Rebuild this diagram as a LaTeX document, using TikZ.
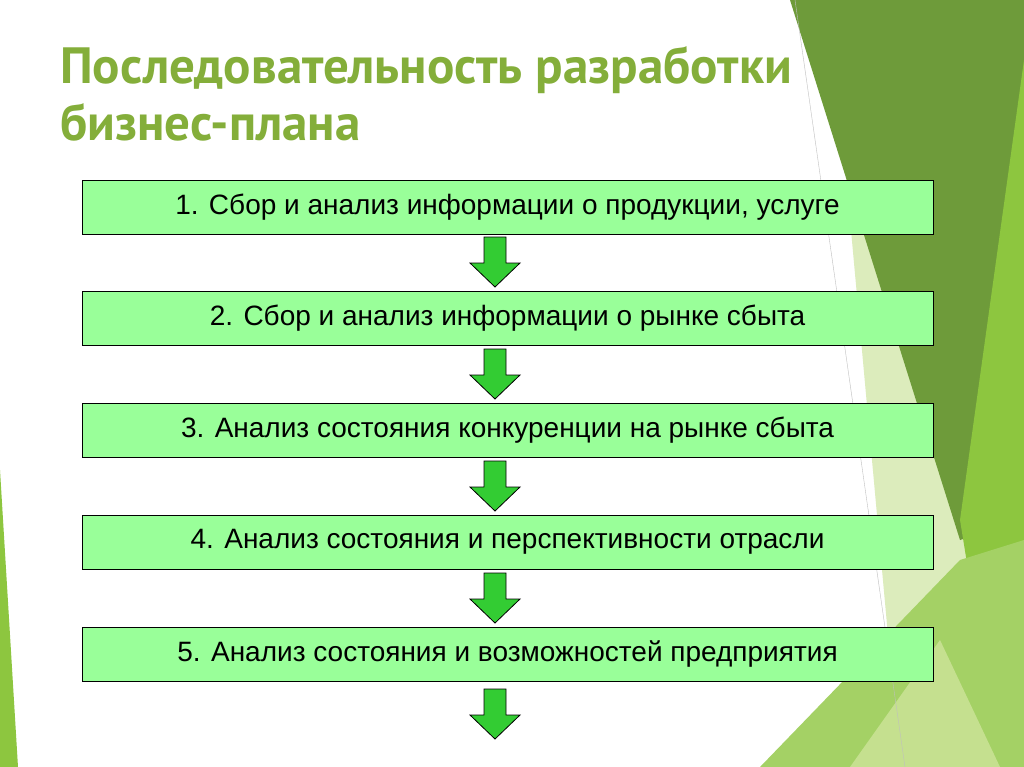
\documentclass[tikz,border=0pt]{standalone}
\usepackage{fontspec}
\setmainfont{Liberation Sans}
\newfontfamily\titlefont{PT Sans}
\usetikzlibrary{positioning}
\definecolor{boxgreen}{HTML}{99FF99}
\definecolor{arrgreen}{HTML}{33CC33}
\definecolor{titlegreen}{HTML}{84AE3A}
\definecolor{darkleaf}{HTML}{6E9B3A}
\definecolor{leaf}{HTML}{8DC63F}
\definecolor{paleleaf}{HTML}{C5E08F}
\tikzset{
  stage/.style={draw=black, fill=boxgreen, minimum width=851pt, minimum height=54pt,
    inner sep=0pt, font=\fontsize{28}{32}\selectfont},
  downarrow/.style={draw=black, fill=arrgreen, line width=0.8pt}
}
\newcommand{\blockarrow}[2]{% x, top y
  \draw[downarrow] (#1-11,#2) -- (#1+11,#2) -- (#1+11,#2+26) -- (#1+25,#2+26)
    -- (#1,#2+50) -- (#1-25,#2+26) -- (#1-11,#2+26) -- cycle;}
\begin{document}
\begin{tikzpicture}[x=1pt,y=-1pt]
\useasboundingbox (0,0) rectangle (1024,767);
\fill[white] (0,0) rectangle (1024,767);
% background leaves
\fill[paleleaf!60] (830,0) -- (1024,0) -- (1024,767) -- (900,767) -- cycle;
\fill[darkleaf] (790,0) -- (1024,0) -- (1024,520) -- (960,540) -- cycle;
\fill[leaf] (1024,60) -- (1024,767) -- (1000,767) -- (960,520) -- cycle;
\fill[leaf!80] (760,767) -- (960,560) -- (1024,540) -- (1024,767) -- cycle;
\fill[paleleaf] (850,767) -- (940,640) -- (1000,767) -- cycle;
\fill[leaf] (0,470) -- (18,767) -- (0,767) -- cycle;
\draw[gray!50] (795,0) -- (905,767);
% title
\node[anchor=west, inner sep=0pt, text=titlegreen,
  font=\titlefont\bfseries\fontsize{51}{60}\selectfont] (title) at (60,70)
  {Последовательность разработки};
\node[anchor=west, inner sep=0pt, text=titlegreen,
  font=\titlefont\bfseries\fontsize{51}{60}\selectfont] (title2) at (60,122)
  {бизнес-плана};
% stages
\node[stage] (s1) at (507.5,207.5) {1. Сбор и анализ информации о продукции, услуге};
\node[stage] (s2) at (507.5,318.5) {2. Сбор и анализ информации о рынке сбыта};
\node[stage] (s3) at (507.5,430) {3. Анализ состояния конкуренции на рынке сбыта};
\node[stage] (s4) at (507.5,542) {4. Анализ состояния и перспективности отрасли};
\node[stage] (s5) at (507.5,654) {5. Анализ состояния и возможностей предприятия};
% arrows
\blockarrow{495}{237}
\blockarrow{495}{349}
\blockarrow{495}{461}
\blockarrow{495}{573}
\blockarrow{495}{689}
\end{tikzpicture}
\end{document}
